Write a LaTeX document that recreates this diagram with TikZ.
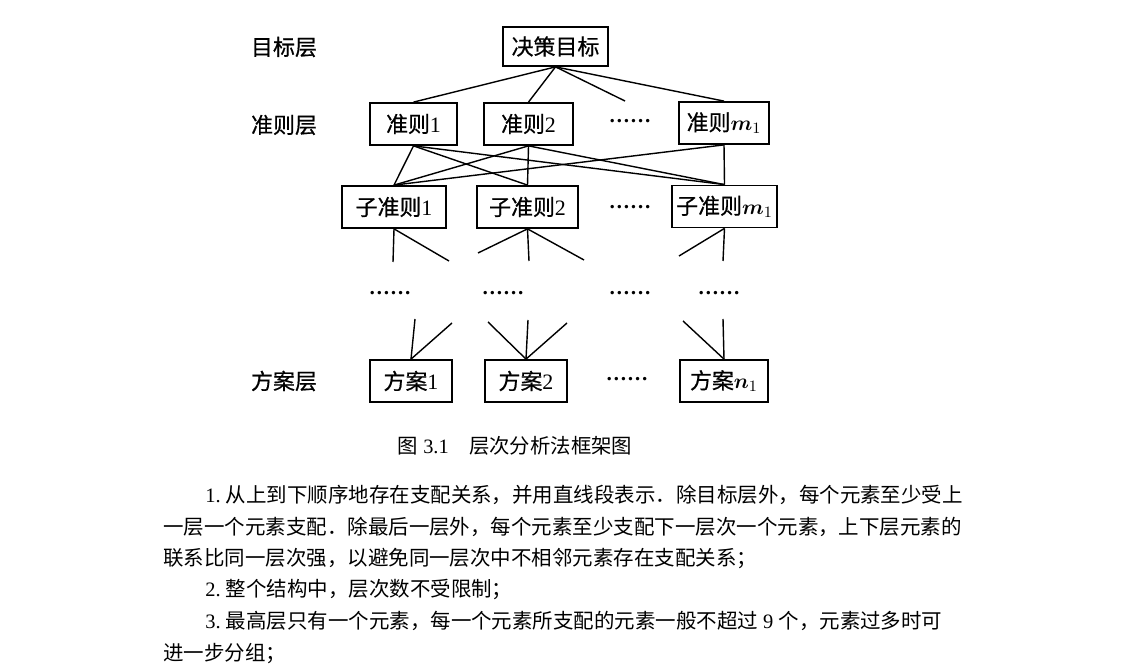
\documentclass[tikz,border=0pt]{standalone}
\usepackage{amsmath,amssymb}
\usepackage{fontspec}
\setmainfont{Liberation Serif}
\newfontfamily\cjk{Noto Sans CJK SC}
\newfontfamily\cjkheavy{Noto Sans CJK SC}[FakeBold=0.6]
\usepackage{tikz}
\tikzset{
  layerbox/.style={draw=black, line width=1pt, minimum height=0.84cm, inner sep=0pt, font=\cjkheavy\fontsize{12.5pt}{15pt}\selectfont},
  layerlabel/.style={inner sep=0pt, font=\cjkheavy\fontsize{12.5pt}{15pt}\selectfont},
  gapdots/.style={inner sep=0pt, font=\bfseries\fontsize{12pt}{14pt}\selectfont},
  link/.style={line width=0.8pt},
  bodytext/.style={anchor=base west, inner sep=0pt, font=\fontsize{11.65pt}{14pt}\selectfont},
}
\begin{document}
\begin{tikzpicture}
  \useasboundingbox (0,0) rectangle (22.44,13.34);

  %--- Layer labels ---
  \node[layerlabel] (lgoal) at (5.68,12.4) {目标层};
  \node[layerlabel] (lcrit) at (5.68,10.84) {准则层};
  \node[layerlabel] (lalt) at (5.68,5.72) {方案层};

  % Goal node
  \node[layerbox, minimum width=2.1cm, minimum height=0.78cm] (goal) at (11.11,12.41) {决策目标};

  % Criteria nodes
  \node[layerbox, minimum width=1.74cm] (crit1) at (8.27,10.86) {准则\textrm{1}};
  \node[layerbox, minimum width=1.78cm] (crit2) at (10.57,10.86) {准则\textrm{2}};
  \node[gapdots] (critdots) at (12.6,10.92) {……};
  \node[layerbox, minimum width=1.8cm] (critm) at (14.48,10.88) {准则$\boldsymbol{m}_1$};

  % Sub-criteria nodes
  \node[layerbox, minimum width=2.08cm] (sub1) at (7.88,9.2) {子准则\textrm{1}};
  \node[layerbox, minimum width=2.02cm] (sub2) at (10.55,9.2) {子准则\textrm{2}};
  \node[gapdots] (subdots) at (12.6,9.2) {……};
  \node[layerbox, minimum width=2.1cm] (subm) at (14.49,9.21) {子准则$\boldsymbol{m}_1$};

  % Intermediate layers
  \node[gapdots] (mid1) at (7.8,7.48) {……};
  \node[gapdots] (mid2) at (10.06,7.48) {……};
  \node[gapdots] (mid3) at (12.6,7.48) {……};
  \node[gapdots] (mid4) at (14.38,7.48) {……};

  % Alternative nodes
  \node[layerbox, minimum width=1.64cm] (alt1) at (8.22,5.72) {方案\textrm{1}};
  \node[layerbox, minimum width=1.64cm] (alt2) at (10.52,5.72) {方案\textrm{2}};
  \node[gapdots] (altdots) at (12.54,5.76) {……};
  \node[layerbox, minimum width=1.76cm] (altn) at (14.48,5.72) {方案$\boldsymbol{n}_1$};

  %--- Goal to criteria ---
  \coordinate (goalend) at (12.5,11.32);
  \draw[link] (goal.south) -- (crit1.north);
  \draw[link] (goal.south) -- (crit2.north);
  \draw[link] (goal.south) -- (goalend);
  \draw[link] (goal.south) -- (critm.north);

  %--- Criteria to sub-criteria ---
  \draw[link] (crit1.south) -- (sub1.north);
  \draw[link] (crit1.south) -- (sub2.north);
  \draw[link] (crit1.south) -- (subm.north);
  \draw[link] (crit2.south) -- (sub1.north);
  \draw[link] (crit2.south) -- (sub2.north);
  \draw[link] (crit2.south) -- (subm.north);
  \draw[link] (critm.south) -- (sub1.north);
  \draw[link] (critm.south) -- (subm.north);

  %--- Sub-criteria stubs ---
  \coordinate (s1a) at (7.86,8.1);
  \coordinate (s1b) at (8.98,8.12);
  \coordinate (s2a) at (9.56,8.28);
  \coordinate (s2b) at (10.58,8.12);
  \coordinate (s2c) at (11.68,8.14);
  \coordinate (sma) at (13.58,8.22);
  \coordinate (smb) at (14.46,8.12);
  \draw[link] (sub1.south) -- (s1a);
  \draw[link] (sub1.south) -- (s1b);
  \draw[link] (sub2.south) -- (s2a);
  \draw[link] (sub2.south) -- (s2b);
  \draw[link] (sub2.south) -- (s2c);
  \draw[link] (subm.south) -- (sma);
  \draw[link] (subm.south) -- (smb);

  %--- Stubs to alternatives ---
  \coordinate (a1a) at (8.3,6.96);
  \coordinate (a1b) at (9.04,6.88);
  \coordinate (a2a) at (9.76,6.9);
  \coordinate (a2b) at (10.56,6.94);
  \coordinate (a2c) at (11.34,6.88);
  \coordinate (ana) at (13.66,6.92);
  \coordinate (anb) at (14.46,6.96);
  \draw[link] (a1a) -- (alt1.north);
  \draw[link] (a1b) -- (alt1.north);
  \draw[link] (a2a) -- (alt2.north);
  \draw[link] (a2b) -- (alt2.north);
  \draw[link] (a2c) -- (alt2.north);
  \draw[link] (ana) -- (altn.north);
  \draw[link] (anb) -- (altn.north);

  % Caption
  \node[inner sep=0pt, font=\fontsize{11.6pt}{14pt}\selectfont] (caption) at (10.3,4.42) {{\cjk 图}~3.1\quad{\cjk 层次分析法框架图}};

  %--- Body text ---
  \node[bodytext] (line1) at (4.1,3.28) {1.\ {\cjk 从上到下顺序地存在支配关系，并用直线段表示．除目标层外，每个元素至少受上}};
  \node[bodytext] (line2) at (3.26,2.64) {{\cjk 一层一个元素支配．除最后一层外，每个元素至少支配下一层次一个元素，上下层元素的}};
  \node[bodytext] (line3) at (3.26,2.02) {{\cjk 联系比同一层次强，以避免同一层次中不相邻元素存在支配关系；}};
  \node[bodytext] (line4) at (4.1,1.42) {2.\ {\cjk 整个结构中，层次数不受限制；}};
  \node[bodytext] (line5) at (4.1,0.78) {3.\ {\cjk 最高层只有一个元素，每一个元素所支配的元素一般不超过}\ 9\ {\cjk 个，元素过多时可}};
  \node[bodytext] (line6) at (3.26,0.14) {{\cjk 进一步分组；}};
\end{tikzpicture}
\end{document}
